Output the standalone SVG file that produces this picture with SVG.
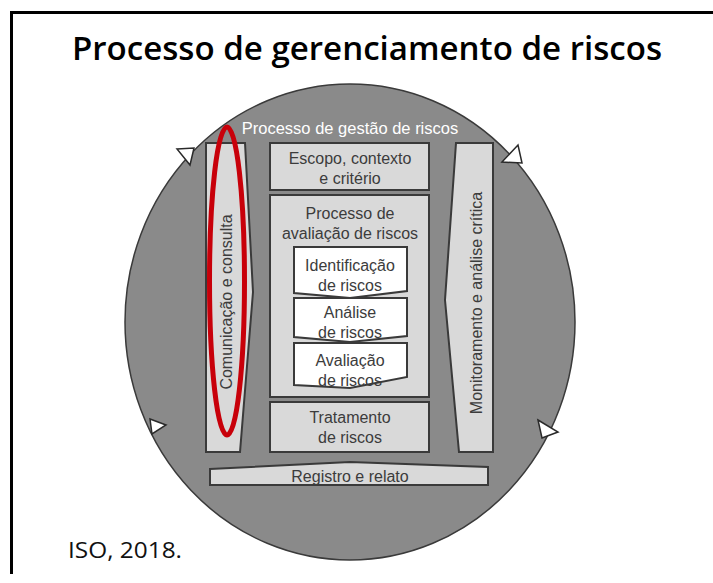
<svg xmlns="http://www.w3.org/2000/svg" width="713" height="583" viewBox="0 0 713 583">
<style>
.frame{stroke:#000;stroke-width:3;fill:none}
.title{font-family:"Open Sans","Liberation Sans",sans-serif;font-weight:600;font-size:33px;fill:#000}
.cite{font-family:"Open Sans","Liberation Sans",sans-serif;font-size:21px;fill:#111}
.disk{fill:#8a8a8a;stroke:#3a3a3a;stroke-width:1.5}
.box{fill:#d9d9d9;stroke:#3a3a3a;stroke-width:2}
.wbox{fill:#fff;stroke:#3a3a3a;stroke-width:2}
.tri{fill:#fff;stroke:#2a2a2a;stroke-width:1.5}
.t{font-family:"Liberation Sans",Arial,sans-serif;font-size:16px;fill:#3c3c3c;text-anchor:middle}
.tw{font-family:"Liberation Sans",Arial,sans-serif;font-size:16.5px;fill:#fff;text-anchor:middle}
.red{fill:none;stroke:#c8000a;stroke-width:5}
</style>
<rect width="713" height="583" fill="#fff"/>
<g id="frame">
<line class="frame" x1="11.5" y1="11" x2="11.5" y2="574"/>
<line class="frame" x1="10" y1="12.5" x2="713" y2="12.5"/>
</g>
<text class="title" x="72" y="60" textLength="590" lengthAdjust="spacingAndGlyphs">Processo de gerenciamento de riscos</text>
<g id="cycle">
<ellipse class="disk" cx="350" cy="322" rx="225" ry="238"/>
<polygon class="tri" points="177,149 194,148 190,165"/>
<polygon class="tri" points="502,162 518,145 522,163"/>
<polygon class="tri" points="538,420 558,432 542,438"/>
<polygon class="tri" points="150,419 166,425 152,434"/>
<text class="tw" x="350" y="134">Processo de gestão de riscos</text>
</g>
<g id="comunicacao">
<polygon class="box" points="206,143 245,143 253,292 240,452 206,452"/>
<text class="t" transform="translate(232,302) rotate(-90)">Comunicação e consulta</text>
</g>
<g id="monitoramento">
<polygon class="box" points="456,143 493,143 493,452 459,452 445,300"/>
<text class="t" transform="translate(482,303) rotate(-90)">Monitoramento e análise crítica</text>
</g>
<g id="escopo">
<rect class="box" x="270" y="143" width="159" height="47"/>
<text class="t" x="350" y="164">Escopo, contexto</text>
<text class="t" x="350" y="184">e critério</text>
</g>
<g id="avaliacao-processo">
<rect class="box" x="270" y="195" width="159" height="202"/>
<text class="t" x="350" y="219">Processo de</text>
<text class="t" x="350" y="239">avaliação de riscos</text>
</g>
<g id="identificacao">
<polygon class="wbox" points="294,247 407,247 407,291 350,298 294,293"/>
<text class="t" x="350" y="271">Identificação</text>
<text class="t" x="350" y="291">de riscos</text>
</g>
<g id="analise">
<polygon class="wbox" points="294,298 407,298 407,336 350,342 294,337"/>
<text class="t" x="350" y="318">Análise</text>
<text class="t" x="350" y="338">de riscos</text>
</g>
<g id="avaliacao">
<polygon class="wbox" points="294,343 407,343 407,377 350,388 294,385"/>
<text class="t" x="350" y="366">Avaliação</text>
<text class="t" x="350" y="386">de riscos</text>
</g>
<g id="tratamento">
<rect class="box" x="270" y="402" width="159" height="50"/>
<text class="t" x="350" y="423">Tratamento</text>
<text class="t" x="350" y="443">de riscos</text>
</g>
<g id="registro">
<polygon class="box" points="210,469 350,462 488,467 488,485 210,485"/>
<text class="t" x="350" y="482">Registro e relato</text>
</g>
<g id="highlight">
<ellipse class="red" cx="227" cy="281" rx="17.5" ry="154"/>
</g>
<text class="cite" x="68" y="558" textLength="114" lengthAdjust="spacingAndGlyphs">ISO, 2018.</text>
</svg>
